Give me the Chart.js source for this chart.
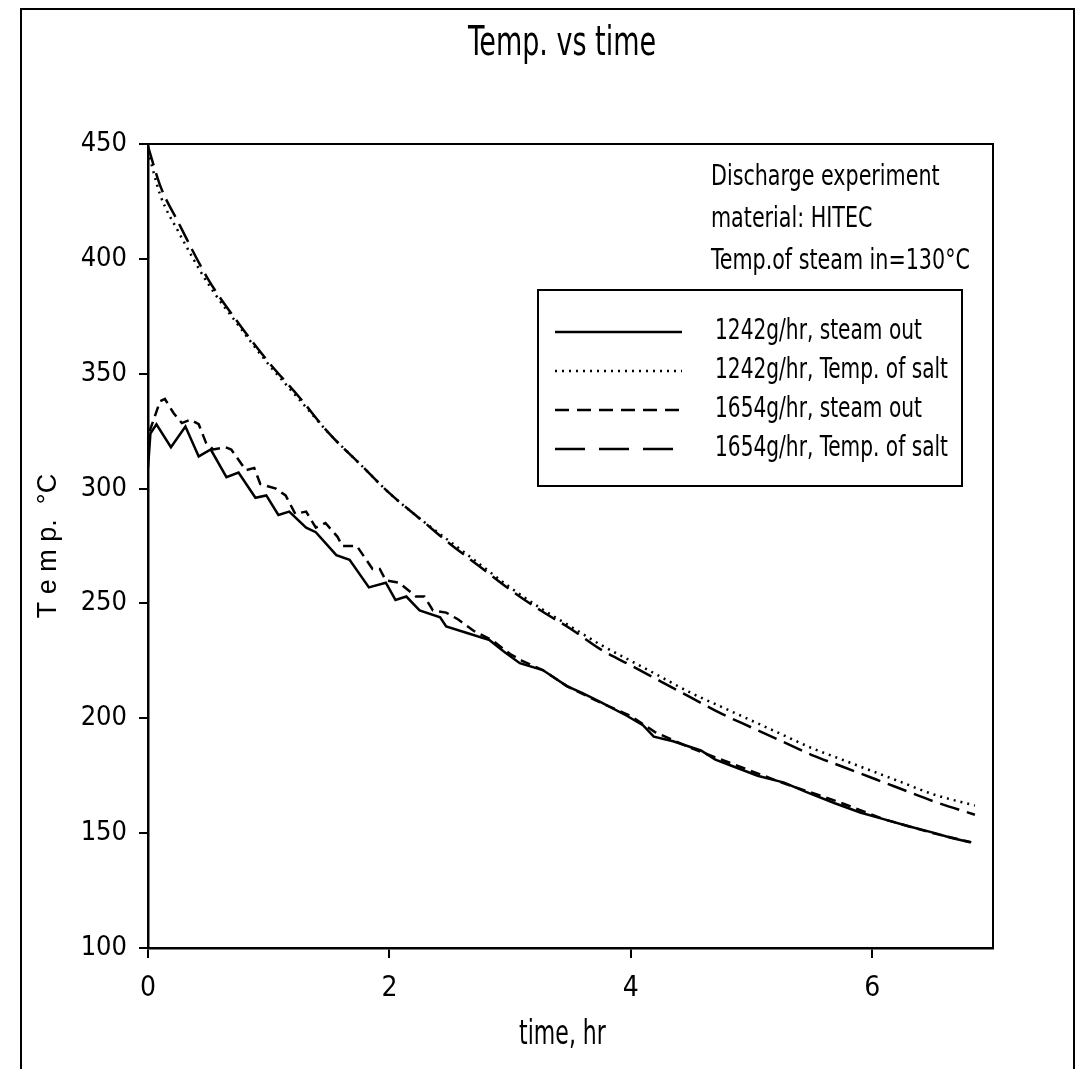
<!DOCTYPE html>
<html>
<head>
<meta charset="utf-8">
<title>Temp. vs time</title>
<script src="https://cdn.jsdelivr.net/npm/chart.js@4"></script>
<style>
  html, body { margin: 0; padding: 0; background: #fff; }
  canvas { display: block; }
</style>
</head>
<body>
<canvas id="myChart" width="1080" height="1069"></canvas>
<script>
// values (time in hr, temperature in °C)
const saltTimes = [0, 0.1, 0.25, 0.5, 0.75, 1.0, 1.25, 1.5, 1.75, 2.0, 2.25, 2.5, 2.75, 3.0, 3.25,
    3.5, 3.75, 4.0, 4.25, 4.5, 4.75, 5.0, 5.25, 5.5, 5.75, 6.0, 6.25, 6.5, 6.85];
const salt1242 = [447, 428, 412, 389, 371, 354, 339, 324, 311, 298, 287, 277, 267, 257, 248,
    240, 232, 225, 218, 211, 205, 199, 193, 187, 182, 177, 172, 167, 162];
const salt1654 = [449, 432, 416, 391, 372, 355, 340, 324, 311, 298, 287, 276, 266, 256, 247,
    239, 230, 223, 216, 209, 202, 196, 190, 184, 179, 174, 169, 164, 158];

const steam1242Times = [0, 0.02, 0.07, 0.19, 0.31, 0.42, 0.52, 0.65, 0.75, 0.89, 0.98, 1.08, 1.17,
    1.31, 1.39, 1.56, 1.67, 1.83, 1.97, 2.05, 2.14, 2.25, 2.42, 2.47, 2.65, 2.83, 2.95, 3.08, 3.27,
    3.47, 3.6, 3.75, 3.97, 4.1, 4.19, 4.35, 4.58, 4.7, 4.85, 5.05, 5.27, 5.45, 5.69, 5.9, 6.1,
    6.3, 6.52, 6.65, 6.81];
const steam1242 = [309, 324, 328, 318, 327, 314, 317, 305, 307, 296, 297, 288.5, 290,
    283, 281, 271, 269, 257, 259, 251.5, 253, 247, 244, 240, 237, 234, 229, 224, 221,
    214, 211, 207, 201, 197, 192, 190, 186, 182, 179, 175, 172, 168, 163, 159, 156,
    153, 150, 148, 146];

const steam1654Times = [0, 0.02, 0.06, 0.1, 0.14, 0.21, 0.28, 0.35, 0.42, 0.48, 0.54, 0.64, 0.69,
    0.81, 0.88, 0.93, 1.06, 1.14, 1.22, 1.31, 1.39, 1.47, 1.57, 1.61, 1.73, 1.86, 1.92, 1.97,
    2.08, 2.22, 2.29, 2.36, 2.47, 2.57, 2.7, 2.85, 3.0, 3.1, 3.27, 3.47, 3.7, 4.0, 4.2, 4.5,
    4.85, 5.25, 5.7, 6.1, 6.5, 6.82];
const steam1654 = [318, 326, 332, 338, 339, 333, 328.5, 330, 328, 320, 317, 318, 317,
    308, 309, 302, 300, 297, 289, 290, 283, 285, 279, 275, 275, 265, 265, 260,
    259, 253, 253, 247, 246, 243, 238, 234, 228, 225, 221, 214, 208, 201, 194, 187,
    180, 172, 164, 156, 150, 146];

const xTicks = [0, 2, 4, 6];
const yTicks = [100, 150, 200, 250, 300, 350, 400, 450];

const seriesLabels = ['1242g/hr, steam out', '1242g/hr, Temp. of salt',
    '1654g/hr, steam out', '1654g/hr, Temp. of salt'];
const noteLines = ['Discharge experiment', 'material: HITEC', 'Temp.of steam in=130\u00B0C'];

const NARROW = "'Liberation Sans Narrow', 'DejaVu Sans Condensed', 'Liberation Sans', sans-serif";

function pts(xs, ys) {
    return xs.map((x, i) => ({x: x, y: ys[i]}));
}

// squeezed text, the scan uses a very narrow face
function narrowText(ctx, text, x, y, sx, align) {
    ctx.save();
    ctx.translate(x, y);
    ctx.scale(sx, 1);
    ctx.textAlign = align;
    ctx.fillText(text, 0, 0);
    ctx.restore();
}

const framePlugin = {
    id: 'frame',
    afterDraw(chart) {
        const ctx = chart.ctx;
        const a = chart.chartArea;
        ctx.save();
        ctx.strokeStyle = '#000';
        ctx.lineWidth = 2;
        ctx.setLineDash([]);
        // plot box
        ctx.strokeRect(a.left, a.top, a.right - a.left, a.bottom - a.top);
        // outer frame of the scanned figure
        ctx.strokeRect(21, 9, 1053, 1080);

        ctx.fillStyle = '#000';
        ctx.textBaseline = 'middle';
        ctx.font = '40px ' + NARROW;
        narrowText(ctx, 'Temp. vs time', 562, 45, 0.75, 'center');

        // x axis title
        ctx.font = '34px ' + NARROW;
        narrowText(ctx, 'time, hr', (a.left + a.right) / 2 - 8, 1035, 0.72, 'center');

        ctx.font = '28px ' + NARROW;
        noteLines.forEach((t, i) => narrowText(ctx, t, 711, 178 + i * 42, 0.82, 'left'));

        // legend box
        ctx.lineWidth = 2;
        ctx.strokeRect(538, 290, 424, 196);
        chart.data.datasets.forEach((ds, i) => {
            const y = 332 + i * 39;
            ctx.beginPath();
            ctx.lineWidth = ds.borderWidth;
            ctx.setLineDash(ds.legendDash || []);
            ctx.moveTo(555, y);
            ctx.lineTo(682, y);
            ctx.stroke();
            ctx.setLineDash([]);
            narrowText(ctx, ds.label, 715, y, 0.8, 'left');
        });
        ctx.restore();
    }
};

const ctx = document.getElementById('myChart').getContext('2d');
const myChart = new Chart(ctx, {
    type: 'line',
    data: {
        datasets: [{
            label: seriesLabels[0],
            data: pts(steam1242Times, steam1242),
            borderColor: '#000',
            borderWidth: 2.5,
            pointRadius: 0,
            tension: 0
        }, {
            label: seriesLabels[1],
            data: pts(saltTimes, salt1242),
            borderColor: '#000',
            borderWidth: 2.5,
            borderDash: [2, 5],
            legendDash: [2, 5],
            pointRadius: 0,
            cubicInterpolationMode: 'monotone'
        }, {
            label: seriesLabels[2],
            data: pts(steam1654Times, steam1654),
            borderColor: '#000',
            borderWidth: 2.5,
            borderDash: [10, 6],
            legendDash: [14, 8],
            pointRadius: 0,
            tension: 0
        }, {
            label: seriesLabels[3],
            data: pts(saltTimes, salt1654),
            borderColor: '#000',
            borderWidth: 2.5,
            borderDash: [20, 8],
            legendDash: [30, 14],
            pointRadius: 0,
            cubicInterpolationMode: 'monotone'
        }]
    },
    options: {
        responsive: false,
        animation: false,
        layout: {
            padding: {left: 0, top: 144, right: 87, bottom: 0}
        },
        plugins: {
            legend: {display: false},
            title: {display: false},
            tooltip: {enabled: false}
        },
        scales: {
            x: {
                type: 'linear',
                min: 0,
                max: 7,
                afterBuildTicks: (s) => { s.ticks = xTicks.map(v => ({value: v})); },
                afterFit: (s) => { s.height = 121; },
                grid: {drawOnChartArea: false, drawTicks: true, tickLength: 10, color: '#000', lineWidth: 2},
                border: {display: true, color: '#000', width: 2.5},
                ticks: {color: '#000', padding: 14, maxRotation: 0, font: {family: NARROW, size: 28}}
            },
            y: {
                min: 100,
                max: 450,
                afterBuildTicks: (s) => { s.ticks = yTicks.map(v => ({value: v})); },
                afterFit: (s) => { s.width = 148; },
                grid: {drawOnChartArea: false, drawTicks: true, tickLength: 9, color: '#000', lineWidth: 2},
                border: {display: true, color: '#000', width: 2.5},
                ticks: {color: '#000', padding: 12, font: {family: NARROW, size: 27}},
                title: {
                    display: true,
                    text: 'T e m p.  \u00B0C',
                    color: '#000',
                    font: {family: "'Liberation Sans', Arial, sans-serif", size: 27},
                    padding: {top: 32, bottom: 0}
                }
            }
        }
    },
    plugins: [framePlugin]
});
</script>
</body>
</html>
